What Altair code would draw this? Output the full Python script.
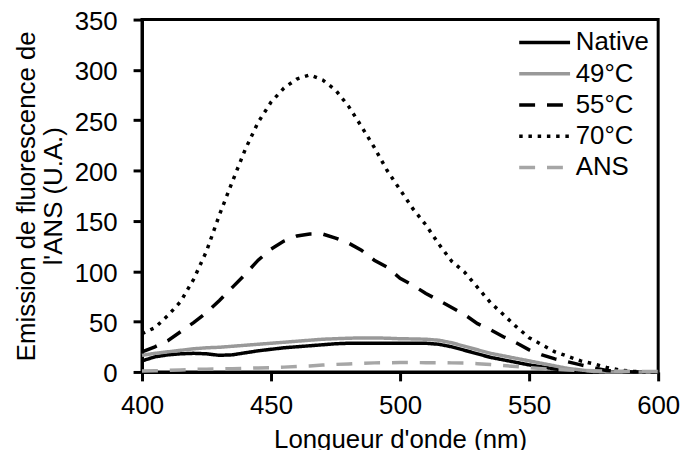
import altair as alt
import pandas as pd

# Wavelength grid (nm)
wavelength = list(range(400, 605, 5))

# Series values (U.A.)
native = [11, 15, 17, 18, 18.5, 18, 16.5, 17, 19, 21, 22.5, 24, 25, 26, 27, 28,
          28.5, 28.5, 28.5, 28.5, 28.5, 28.5, 28.5,
          27.5, 25, 21.5, 18, 14.5, 12, 9.5, 7, 5, 3, 1.5, 0.5,
          0, 0, 0, 0, 0, 0]
c49 = [16.5, 18.5, 20, 21.5, 23, 24, 24.5, 25.5, 26.5, 27.5, 28.5, 29.5, 30.5, 31.5, 32.5, 33,
       33.5, 33.8, 33.8, 33.5, 33, 32.8, 32.5,
       31.5, 29, 25.5, 22, 18.5, 16, 13.5, 11, 8.5, 6, 3.5, 2,
       0.5, 0, 0, 0, 0, 0]
c55 = [20, 25, 31, 40, 49, 59, 71, 84, 97, 111, 122, 130, 135, 137, 137, 133,
       128, 121, 111, 104, 93, 86, 78,
       71, 64, 57, 48, 42, 35, 29, 22, 17, 13, 10, 7,
       4, 1.5, 0.5, 0, 0, 0]
c70 = [38, 44, 56, 70, 92, 120, 156, 189, 221, 248, 268, 282, 291, 295, 290, 280,
       264, 244, 223, 200, 181, 162, 146,
       127, 110, 99, 84, 69, 57, 45, 34, 27, 20, 15.5, 11,
       8, 4.5, 2, 0.5, 0, 0]
ans = [1, 1.2, 1.5, 2, 2.5, 2.8, 3, 3.3, 3.6, 4, 4.3, 4.8, 5.5, 6, 6.8, 7.5,
       8, 8.6, 9, 9.2, 9.3, 9.3, 9.2,
       9.2, 9, 8.8, 8.2, 7.3, 6.3, 5.5, 4.3, 3.3, 2.5, 2, 1.5,
       1.2, 1, 0.8, 0.6, 0.5, 0.4]

series = ["Native", "49°C", "55°C", "70°C", "ANS"]
values = [native, c49, c55, c70, ans]
colors = ["#000000", "#999999", "#000000", "#000000", "#a6a6a6"]
dashes = [[1, 0], [1, 0], [16, 12], [3.5, 5.8], [16, 12]]

x_ticks = [400, 450, 500, 550, 600]
y_ticks = [0, 50, 100, 150, 200, 250, 300, 350]

rows = []
for s, vals in zip(series, values):
    for w, v in zip(wavelength, vals):
        rows.append({"wl": w, "v": v, "serie": s})
df = pd.DataFrame(rows)

FONT = "Liberation Sans"

legend = alt.Legend(
    title=None,
    orient="none",
    legendX=408,
    legendY=10,
    symbolType="M-4,0H1",
    symbolSize=420,
    symbolStrokeWidth=3.5,
    labelFontSize=26,
    labelFont=FONT,
    labelColor="black",
    labelOffset=3,
    rowPadding=5.5,
    padding=0,
)

chart = alt.Chart(df).mark_line(strokeWidth=3.5).encode(
    x=alt.X("wl:Q",
            scale=alt.Scale(domain=[400, 600], nice=False, zero=False),
            axis=alt.Axis(values=x_ticks, title="Longueur d'onde (nm)",
                          labelFlush=False, labelOverlap=False,
                          labelBaseline="alphabetic", labelPadding=33,
                          titleBaseline="alphabetic", titleY=76)),
    y=alt.Y("v:Q",
            scale=alt.Scale(domain=[0, 350], nice=False),
            axis=alt.Axis(values=y_ticks,
                          title=["Emission de fluorescence de", "l'ANS (U.A.)"],
                          labelFlush=False, labelOverlap=False,
                          labelPadding=16, labelOffset=2,
                          titleAngle=270, titleBaseline="alphabetic",
                          titleX=-108, titleY=177.5, titleLineHeight=27)),
    color=alt.Color("serie:N", scale=alt.Scale(domain=series, range=colors),
                    legend=legend),
    strokeDash=alt.StrokeDash("serie:N", scale=alt.Scale(domain=series, range=dashes),
                              legend=legend),
).properties(
    width=520,
    height=355,
    autosize=alt.AutoSizeParams(type="none"),
    padding={"left": 135, "top": 10, "right": 22, "bottom": 80},
).configure_view(
    stroke="black", strokeWidth=3
).configure_axis(
    grid=False,
    domainColor="black", domainWidth=3,
    tickColor="black", tickWidth=3, tickSize=9,
    labelFont=FONT, labelFontSize=26, labelColor="black",
    titleFont=FONT, titleFontSize=26, titleFontWeight="normal", titleColor="black",
)

chart.save("out.html", embed_options={"renderer": "svg", "actions": False})
